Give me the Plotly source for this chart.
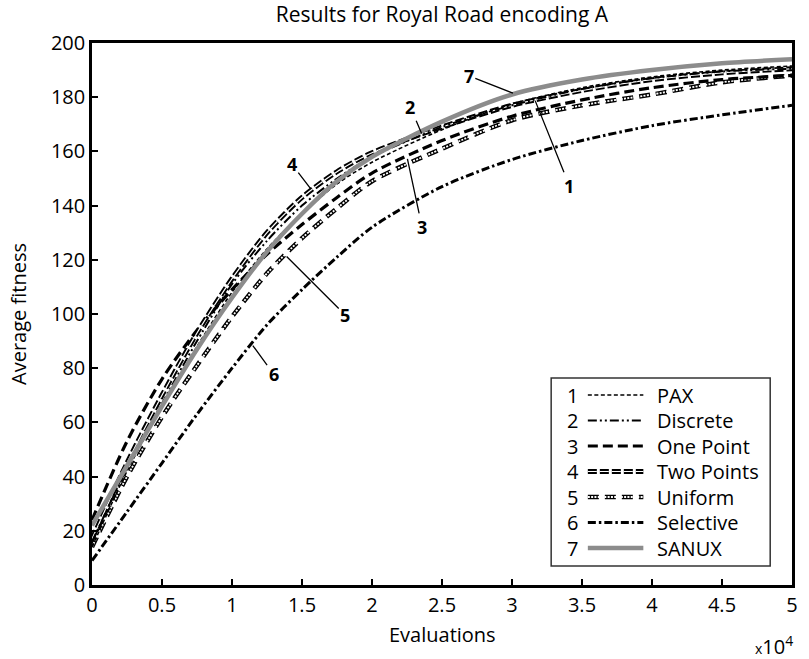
import plotly.graph_objects as go

# ---------------- data ----------------
EVALS = [0, 2500, 5000, 7500, 10000, 12500, 15000, 17500, 20000,
         25000, 30000, 35000, 40000, 45000, 50000]

PAX        = [14, 42, 66, 88, 108, 124, 137, 148, 156, 168, 177.5, 183.5, 187.5, 190, 191.5]
DISCRETE   = [16, 43, 67, 90, 111, 127, 140, 150, 158, 169, 177, 183, 187, 189.5, 190.5]
ONE_POINT  = [24, 53, 76, 94, 109, 122, 133, 143, 152, 164, 173, 179, 183.5, 186.5, 188]
TWO_POINTS = [17, 45, 70, 93, 113, 130, 143, 152.5, 159.5, 169, 177, 182.5, 186.5, 189, 190.5]
UNIFORM    = [14, 40, 62, 81, 99, 115, 128, 139, 149, 161, 171.5, 177, 181, 185.5, 188]
SELECTIVE  = [9, 27, 45, 63, 80, 96, 109, 121, 132, 147, 157, 164, 169.5, 173.5, 177]
SANUX      = [22, 44, 66, 87, 106, 123, 137, 149, 158, 171, 181, 186.5, 190, 192.5, 194]

NUMBERS = ["1", "2", "3", "4", "5", "6", "7"]
NAMES = ["PAX", "Discrete", "One Point", "Two Points", "Uniform", "Selective", "SANUX"]
SERIES = [PAX, DISCRETE, ONE_POINT, TWO_POINTS, UNIFORM, SELECTIVE, SANUX]

X_TICKS = [0, 5000, 10000, 15000, 20000, 25000, 30000, 35000, 40000, 45000, 50000]
X_TICK_TEXT = ["0", "0.5", "1", "1.5", "2", "2.5", "3", "3.5", "4", "4.5", "5"]
Y_TICKS = [0, 20, 40, 60, 80, 100, 120, 140, 160, 180, 200]

# curve label annotations: (label, series index, x of the point it points to)
LABEL_POINTS = [("1", 0, 31600), ("2", 1, 23600), ("3", 2, 22500), ("4", 3, 15700),
                ("5", 4, 13800), ("6", 5, 11400), ("7", 6, 30200)]

# ---------------- styles ----------------
STYLES = {
    "PAX":        [("black", 1.6, "4px,2.5px")],
    "Discrete":   [("black", 2.0, "9px,3px,2px,3px,2px,3px")],
    "One Point":  [("black", 3.2, "10px,5px")],
    "Two Points": [("black", 5.0, "9px,3px"), ("white", 1.2, "9px,3px")],
    "Uniform":    [("black", 4.5, "11px,6px"), ("white", 1.8, "2px,1.3px")],
    "Selective":  [("black", 3.0, "8px,3px,2.5px,3px")],
    "SANUX":      [("#8c8c8c", 4.5, "solid")],
}
DRAW_ORDER = [5, 4, 2, 3, 1, 0, 6]
LABEL_OFFSETS = {"1": (35, 87), "2": (-12, -28), "3": (15, 70), "4": (-20, -26),
                 "5": (60, 60), "6": (22, 30), "7": (-46, -18)}

FONT = "Open Sans"

fig = go.Figure()
for idx in DRAW_ORDER:
    name = NAMES[idx]
    for color, width, dash in STYLES[name]:
        fig.add_trace(go.Scatter(
            x=EVALS, y=SERIES[idx], mode="lines", name=name, showlegend=False,
            line=dict(color=color, width=width, dash=dash, shape="spline", smoothing=0.8),
            hoverinfo="skip"))


def interp(xs, ys, x):
    for i in range(len(xs) - 1):
        if xs[i] <= x <= xs[i + 1]:
            t = (x - xs[i]) / (xs[i + 1] - xs[i])
            return ys[i] + t * (ys[i + 1] - ys[i])
    return ys[-1]


annotations = []
for lab, si, xv in LABEL_POINTS:
    ax, ay = LABEL_OFFSETS[lab]
    annotations.append(dict(
        x=xv, y=interp(EVALS, SERIES[si], xv), xref="x", yref="y",
        text="<b>%s</b>" % lab, showarrow=True, arrowhead=0, arrowwidth=1.3,
        arrowcolor="black", ax=ax, ay=ay, standoff=2,
        font=dict(family=FONT, size=18, color="black")))

# ---------------- manual legend (paper coords) ----------------
PX_W, PX_H = 706.3, 542.0
def px_x(p):
    return (p - 91.7) / PX_W
def px_y(p):
    return (585.0 - p) / PX_H

shapes = [dict(type="rect", xref="paper", yref="paper",
               x0=px_x(555), x1=px_x(776), y0=px_y(566), y1=px_y(378),
               line=dict(color="#333333", width=1.5), fillcolor="white", layer="above")]
for i, name in enumerate(NAMES):
    yp = px_y(395 + 25.5 * i)
    annotations.append(dict(x=px_x(577), y=yp, xref="paper", yref="paper", text=NUMBERS[i],
                            showarrow=False, xanchor="center", yanchor="middle",
                            font=dict(family=FONT, size=20, color="black")))
    annotations.append(dict(x=px_x(660), y=yp, xref="paper", yref="paper", text=name,
                            showarrow=False, xanchor="left", yanchor="middle",
                            font=dict(family=FONT, size=20, color="black")))
    for color, width, dash in STYLES[name]:
        shapes.append(dict(type="line", xref="paper", yref="paper",
                           x0=px_x(592), x1=px_x(648), y0=yp, y1=yp,
                           line=dict(color=color, width=width, dash=dash), layer="above"))

# axis titles and exponent
annotations.append(dict(x=px_x(801), y=px_y(645), xref="paper", yref="paper",
                        text="<span style='font-size:14px'>x</span>10<sup>4</sup>",
                        showarrow=False, xanchor="right", yanchor="middle",
                        font=dict(family=FONT, size=20, color="black")))
annotations.append(dict(x=0.5, y=px_y(634), xref="paper", yref="paper",
                        text="Evaluations", showarrow=False, xanchor="center", yanchor="middle",
                        font=dict(family=FONT, size=20, color="black")))
annotations.append(dict(x=px_x(17), y=px_y(314), xref="paper", yref="paper",
                        text="Average fitness", textangle=-90, showarrow=False,
                        xanchor="center", yanchor="middle",
                        font=dict(family=FONT, size=20, color="black")))

fig.update_layout(
    width=809, height=659,
    margin=dict(l=92, r=11, t=43, b=74),
    paper_bgcolor="white", plot_bgcolor="white",
    font=dict(family=FONT, size=20, color="black"),
    title=dict(text="Results for Royal Road encoding A", x=0.5, xref="paper",
               y=1 - 15 / 659, yref="container", yanchor="middle", xanchor="center",
               font=dict(family=FONT, size=21, color="black")),
    xaxis=dict(range=[0, 50000], tickvals=X_TICKS, ticktext=X_TICK_TEXT,
               ticks="inside", ticklen=6, tickwidth=1.5, tickcolor="black",
               showline=True, linecolor="black", linewidth=2.5, mirror=True,
               showgrid=False, zeroline=False, tickfont=dict(size=20)),
    yaxis=dict(range=[0, 200], tickvals=Y_TICKS,
               ticks="inside", ticklen=6, tickwidth=1.5, tickcolor="black",
               showline=True, linecolor="black", linewidth=2.5, mirror=True,
               showgrid=False, zeroline=False, tickfont=dict(size=20)),
    annotations=annotations,
    shapes=shapes,
)

fig.write_html("out.html")
